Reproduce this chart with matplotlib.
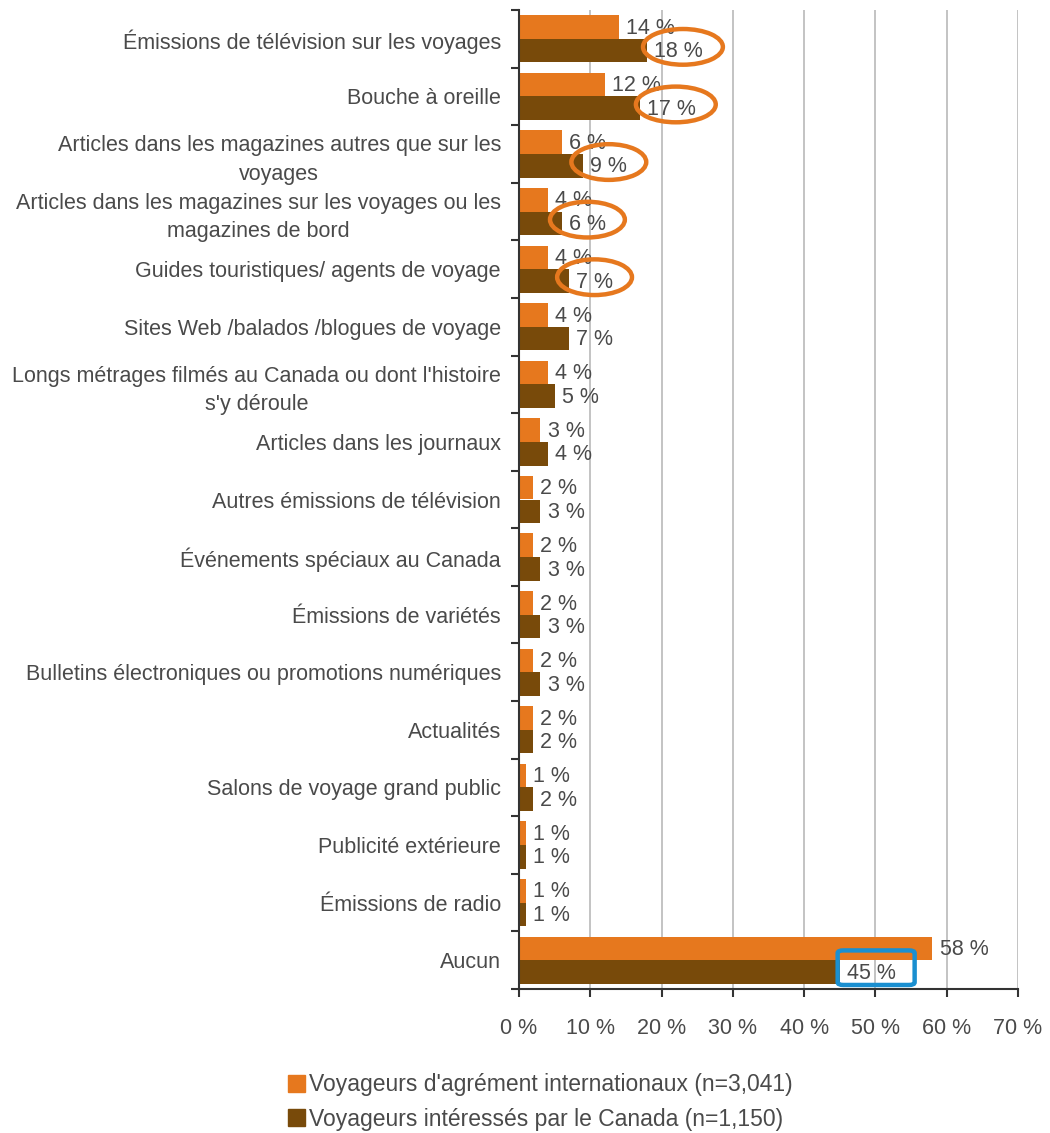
import matplotlib.pyplot as plt
import matplotlib.patches as mpatches
import numpy as np

categories = [
    "Émissions de télévision sur les voyages",
    "Bouche à oreille",
    "Articles dans les magazines autres que sur les\nvoyages",
    "Articles dans les magazines sur les voyages ou les\nmagazines de bord",
    "Guides touristiques/ agents de voyage",
    "Sites Web /balados /blogues de voyage",
    "Longs métrages filmés au Canada ou dont l'histoire\ns'y déroule",
    "Articles dans les journaux",
    "Autres émissions de télévision",
    "Événements spéciaux au Canada",
    "Émissions de variétés",
    "Bulletins électroniques ou promotions numériques",
    "Actualités",
    "Salons de voyage grand public",
    "Publicité extérieure",
    "Émissions de radio",
    "Aucun",
]
international = [14, 12, 6, 4, 4, 4, 4, 3, 2, 2, 2, 2, 2, 1, 1, 1, 58]
canada = [18, 17, 9, 6, 7, 7, 5, 4, 3, 3, 3, 3, 2, 2, 1, 1, 45]
series_names = ["Voyageurs d'agrément internationaux (n=3,041)",
                "Voyageurs intéressés par le Canada (n=1,150)"]
circled = [0, 1, 2, 3, 4]   # brown labels circled in orange
boxed = [16]                # brown label boxed in blue

ORANGE = "#E6781E"
BROWN = "#784A0A"
TEXT = "#4A4A4A"

plt.rcParams['font.family'] = ['Liberation Sans', 'DejaVu Sans']

fig = plt.figure(figsize=(10.5, 11.33), dpi=100)
ax = fig.add_axes([519 / 1050, 1 - 989 / 1133, (1018 - 519) / 1050, (989 - 10) / 1133])

y = np.arange(len(categories))
h = 0.41
ax.barh(y - h / 2, international, height=h, color=ORANGE, zorder=2)
ax.barh(y + h / 2, canada, height=h, color=BROWN, zorder=2)

for i in range(len(categories)):
    ax.text(international[i] + 1.0, y[i] - h / 2 + 0.02, f"{international[i]} %",
            va="center", ha="left", fontsize=15.5, color=TEXT, zorder=4)
    ax.text(canada[i] + 1.0, y[i] + h / 2 + 0.02, f"{canada[i]} %",
            va="center", ha="left", fontsize=15.5, color=TEXT, zorder=4)

# highlight annotations
for i in circled:
    w = 11.2 if canada[i] >= 10 else 10.5
    cx = canada[i] + (5.0 if canada[i] >= 10 else 3.6)
    ax.add_patch(mpatches.Ellipse((cx, y[i] + 0.14), w, 0.62, fill=False,
                                  edgecolor=ORANGE, linewidth=3.2, zorder=5))
for i in boxed:
    ax.add_patch(mpatches.FancyBboxPatch((canada[i] - 0.3, y[i] - 0.17), 10.8, 0.6,
                                         boxstyle="round,pad=0,rounding_size=0.8",
                                         mutation_aspect=0.06,
                                         fill=False, edgecolor="#1A8FD0", linewidth=3.2, zorder=5))

ax.set_xlim(0, 70)
ax.set_ylim(len(categories) - 0.5, -0.5)
ax.set_xticks(np.arange(0, 71, 10))
ax.set_xticklabels([f"{v} %" for v in range(0, 71, 10)], fontsize=15.5, color=TEXT)
ax.set_yticks(y)
ax.set_yticklabels(categories, fontsize=15.5, color=TEXT, multialignment="center",
                   linespacing=1.45)
ax.set_yticks(np.arange(-0.5, len(categories)), minor=True)
ax.tick_params(axis="y", which="major", length=0, pad=13)
ax.tick_params(axis="y", which="minor", length=6, width=1.5, color="#333333")
ax.tick_params(axis="x", length=6, width=1.5, color="#333333", pad=15)
ax.grid(axis="x", color="#BEBEBE", linewidth=1.3, zorder=0)
ax.set_axisbelow(True)
for s in ["top", "right"]:
    ax.spines[s].set_visible(False)
for s in ["left", "bottom"]:
    ax.spines[s].set_color("#333333")
    ax.spines[s].set_linewidth(1.5)

handles = [mpatches.Patch(color=ORANGE, label=series_names[0]),
           mpatches.Patch(color=BROWN, label=series_names[1])]
fig.legend(handles=handles, loc="center left", bbox_to_anchor=(288 / 1050, 1 - 1102 / 1133),
           frameon=False, fontsize=16.5, handlelength=0.75, handleheight=0.75,
           handletextpad=0.15, labelspacing=0.5, labelcolor=TEXT,
           borderpad=0, borderaxespad=0)

fig.savefig("out.png", dpi=100)
